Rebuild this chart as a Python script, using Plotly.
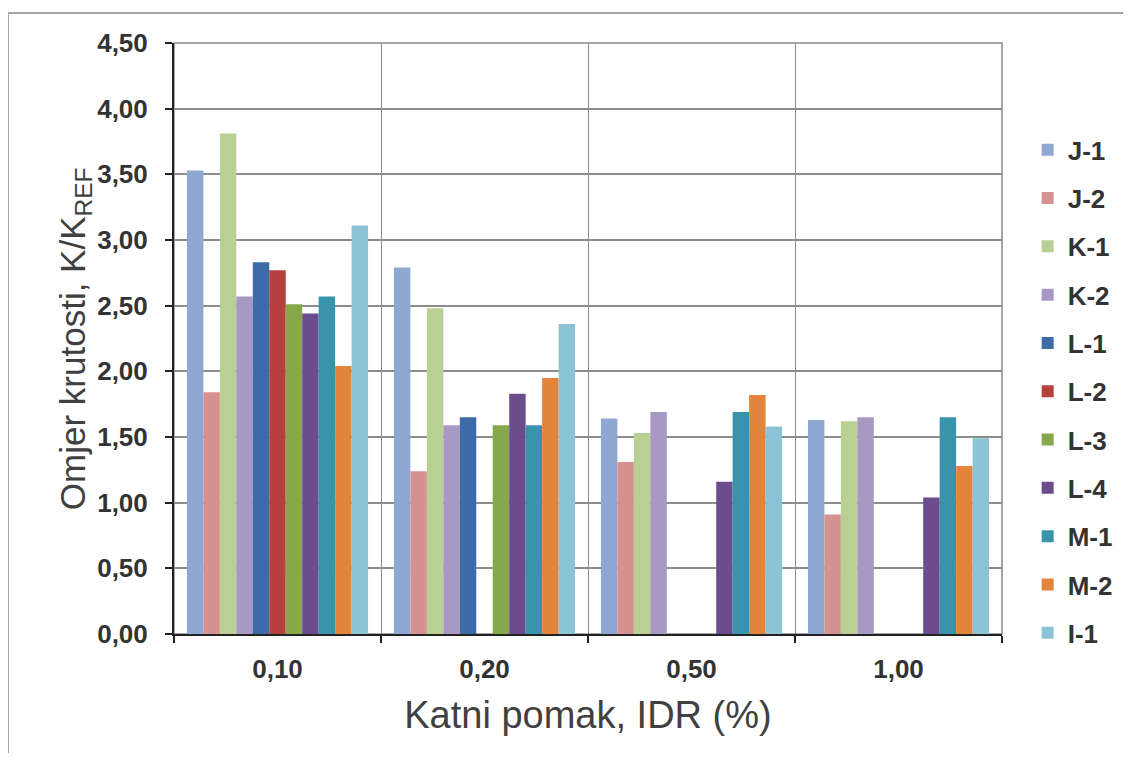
import plotly.graph_objects as go

# ── Data ──────────────────────────────────────────────────────────────────────
IDR = ["0,10", "0,20", "0,50", "1,00"]

J1 = [3.53, 2.79, 1.64, 1.63]
J2 = [1.84, 1.24, 1.31, 0.91]
K1 = [3.81, 2.48, 1.53, 1.62]
K2 = [2.57, 1.59, 1.69, 1.65]
L1 = [2.83, 1.65, None, None]
L2 = [2.77, None, None, None]
L3 = [2.51, 1.59, None, None]
L4 = [2.44, 1.83, 1.16, 1.04]
M1 = [2.57, 1.59, 1.69, 1.65]
M2 = [2.04, 1.95, 1.82, 1.28]
I1 = [3.11, 2.36, 1.58, 1.49]

SERIES = [
    ("J-1", J1, "#8FA8D2"),
    ("J-2", J2, "#D69290"),
    ("K-1", K1, "#B9D095"),
    ("K-2", K2, "#A898C4"),
    ("L-1", L1, "#3D6BA8"),
    ("L-2", L2, "#B5403D"),
    ("L-3", L3, "#87A84A"),
    ("L-4", L4, "#6B4D8E"),
    ("M-1", M1, "#3894AB"),
    ("M-2", M2, "#E2843A"),
    ("I-1", I1, "#8DC3D6"),
]

TEXT = "#333333"
GRID = "#8C8C8C"
FONT = "Arial, 'Liberation Sans', sans-serif"

fig = go.Figure()
for name, vals, color in SERIES:
    fig.add_trace(go.Bar(
        x=IDR, y=vals, name=name, legendgroup=name,
        marker=dict(color=color, line=dict(width=0)),
    ))

# plot area border (grey) and outer chart frame
fig.add_shape(type="rect", xref="paper", yref="paper", x0=0, x1=1, y0=0, y1=1,
              line=dict(color=GRID, width=1.5), layer="below")
fig.add_shape(type="line", xref="paper", yref="paper", x0=-0.2005, x1=-0.2005,
              y0=1.0508, y1=-0.25, line=dict(color="#A6A6A6", width=2))
fig.add_shape(type="line", xref="paper", yref="paper", x0=-0.2005, x1=1.2,
              y0=1.0508, y1=1.0508, line=dict(color="#A6A6A6", width=2))

# y-axis title as a rotated annotation so it sits where the original has it
fig.add_annotation(
    text="Omjer krutosti, K/K<sub>REF</sub>",
    xref="paper", yref="paper", x=-0.12, y=0.5,
    xanchor="center", yanchor="middle", textangle=-90, showarrow=False,
    font=dict(size=35, family=FONT, color="#404040"),
)

# page body has an 8px margin -> figure is 1115x745 inside the 1131x761 window
fig.update_layout(
    width=1115, height=745,
    paper_bgcolor="white", plot_bgcolor="white",
    separators=",.",
    font=dict(family=FONT, color=TEXT),
    margin=dict(l=166, r=121, t=35, b=119, autoexpand=False),
    barmode="group", bargap=0.125, bargroupgap=0,
    showlegend=True,
    legend=dict(
        x=1.031, y=0.859, xanchor="left", yanchor="top",
        font=dict(size=26, family=FONT, color=TEXT, weight="bold"),
        tracegroupgap=11.5, itemwidth=30, bgcolor="rgba(0,0,0,0)",
    ),
    xaxis=dict(
        type="category", tickson="boundaries",
        showgrid=True, gridcolor=GRID, gridwidth=1,
        showline=True, linecolor="#222222", linewidth=2,
        ticks="outside", ticklen=7, tickcolor="#222222", tickwidth=2,
        ticklabelstandoff=11,
        tickfont=dict(size=26, family=FONT, color=TEXT, weight="bold"),
        title=dict(text="Katni pomak, IDR (%)", standoff=18,
                   font=dict(size=38, family=FONT, color="#404040")),
    ),
    yaxis=dict(
        range=[0, 4.5], dtick=0.5, tickformat=".2f",
        showgrid=True, gridcolor=GRID, gridwidth=1.5,
        zeroline=False,
        showline=True, linecolor="#222222", linewidth=2,
        ticks="outside", ticklen=7, tickcolor="#222222", tickwidth=2,
        ticklabelstandoff=12,
        tickfont=dict(size=26, family=FONT, color=TEXT, weight="bold"),
    ),
)

fig.write_html("out.html")
